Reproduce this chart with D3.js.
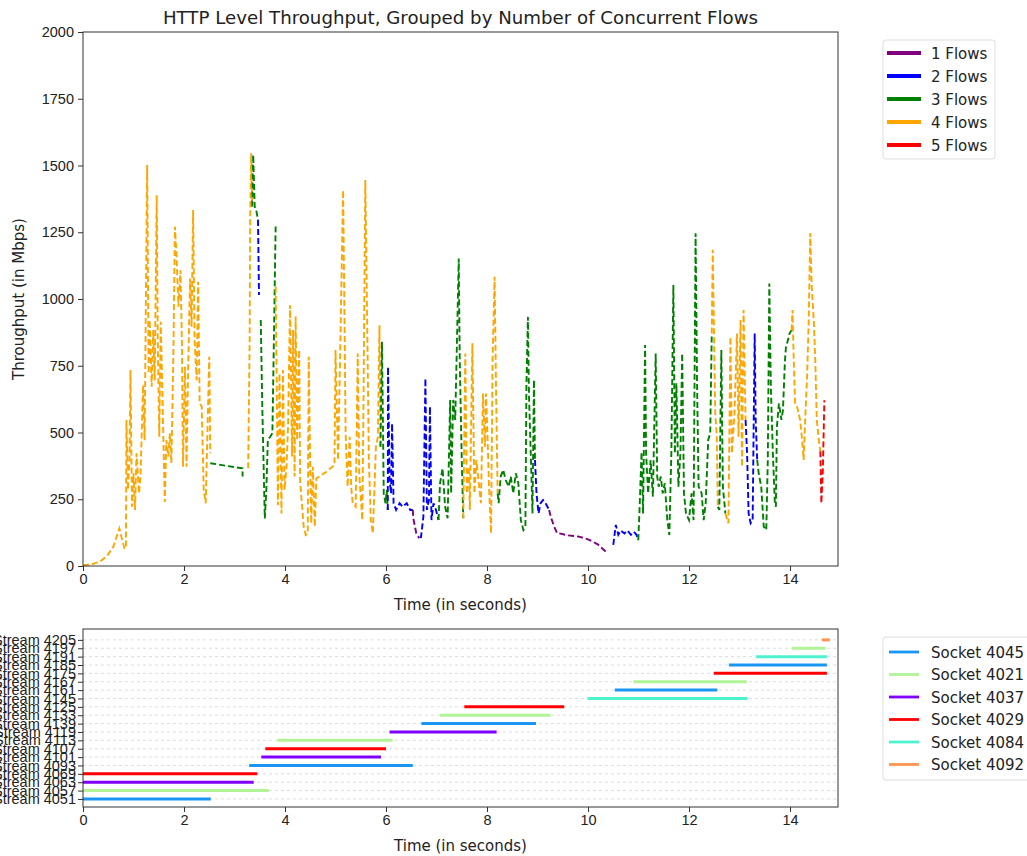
<!DOCTYPE html>
<html>
<head>
<meta charset="utf-8">
<script src="https://cdn.jsdelivr.net/npm/d3@7"></script>
<style>
  body { margin: 0; background: #fff; }
  svg { font-family: "DejaVu Sans", sans-serif; }
  .tick text { font-size: 14.5px; fill: #222; }
  .tick line { stroke: #333; }
</style>
</head>
<body>
<div id="chart"></div>
<script>
// flow colours / legend
const flowCounts = [1, 2, 3, 4, 5];
const flowColors = ['#800080', '#0000ff', '#008000', '#ffa500', '#ff0000'];

// throughput pieces, [time, Mbps], each tagged with its concurrent flow count
const seg01 = [[0,2],[0.2,8],[0.34,17],[0.47,36],[0.6,72],[0.72,141],[0.76,110],[0.82,66],[0.85,66],[0.86,547],[0.89,285],[0.92,397],[0.94,734],[0.97,222],[1.0,347],[1.03,210],[1.06,422],[1.11,272],[1.14,347],[1.19,678],[1.22,471],[1.27,1502],[1.3,721],[1.32,921],[1.36,671],[1.39,884],[1.42,696],[1.46,1389],[1.48,846],[1.51,484],[1.54,915],[1.58,572],[1.62,240],[1.65,472],[1.69,410],[1.72,497],[1.75,385],[1.79,796],[1.82,1271],[1.85,1171],[1.89,971],[1.93,1108],[1.96,821],[1.98,372],[2.02,746],[2.05,372],[2.08,721],[2.12,1077],[2.15,896],[2.18,1333],[2.21,846],[2.25,696],[2.28,1065],[2.31,609],[2.35,597],[2.39,285],[2.43,235],[2.46,472],[2.5,784],[2.52,422]];
const seg02 = [[2.52,385],[2.84,375],[3.16,366],[3.16,335]];
const seg03 = [[3.27,366],[3.3,846],[3.31,1296],[3.33,1546],[3.35,1346]];
const seg04 = [[3.35,1346],[3.37,1540],[3.4,1346],[3.43,1333],[3.465,1296]];
const seg05 = [[3.465,1296],[3.485,1015]];
const seg06 = [[3.52,921],[3.55,597],[3.6,178],[3.63,285],[3.66,472],[3.71,485],[3.75,497],[3.78,846],[3.8,1096],[3.815,1277]];
const seg07 = [[3.815,1046],[3.84,597],[3.86,228],[3.89,721],[3.93,197],[3.96,734],[3.99,285],[4.03,372],[4.06,522],[4.1,977],[4.14,410],[4.16,884],[4.19,335],[4.21,934],[4.24,472],[4.28,809],[4.3,310],[4.34,222],[4.37,147],[4.41,116],[4.45,122],[4.47,784],[4.5,347],[4.52,160],[4.55,372],[4.59,147],[4.62,328],[4.82,353],[4.98,378],[5.0,809],[5.05,397],[5.09,772],[5.15,1408],[5.18,896],[5.2,497],[5.24,297],[5.28,484],[5.31,297],[5.34,235],[5.4,222],[5.44,796],[5.47,347],[5.53,172],[5.55,522],[5.59,1446],[5.64,722],[5.66,397],[5.7,172],[5.74,122],[5.8,447],[5.84,484],[5.87,902],[5.89,447]];
const seg08 = [[5.89,447],[5.92,840],[5.94,522],[5.955,272],[5.99,235],[6.015,285],[6.035,210]];
const seg09 = [[6.035,210],[6.04,746],[6.07,322],[6.1,272],[6.12,534],[6.15,235],[6.2,210],[6.27,235],[6.33,222],[6.41,235],[6.48,210],[6.53,210]];
const seg10 = [[6.53,210],[6.54,179],[6.6,122],[6.66,104]];
const seg11 = [[6.69,104],[6.74,185],[6.78,703],[6.81,210],[6.85,247],[6.87,597],[6.9,172],[6.94,235],[6.99,210],[7.04,172]];
const seg12 = [[7.04,172],[7.07,310],[7.12,366],[7.17,222],[7.22,179],[7.27,622],[7.29,272],[7.33,622],[7.37,547],[7.4,796],[7.44,1152],[7.46,771],[7.5,397],[7.53,179]];
const seg13 = [[7.53,179],[7.57,796],[7.6,272],[7.64,372],[7.66,210],[7.71,834],[7.75,272],[7.79,397],[7.83,322],[7.88,235],[7.92,646],[7.96,447],[7.98,646],[8.01,484],[8.04,297],[8.08,122],[8.11,771],[8.15,1083],[8.18,646],[8.21,272]];
const seg14 = [[8.21,272],[8.23,235],[8.27,335],[8.32,360],[8.37,322],[8.43,297],[8.47,335],[8.52,272],[8.57,347],[8.62,310],[8.67,172],[8.72,135],[8.76,148],[8.78,672],[8.81,933],[8.83,646],[8.87,397],[8.9,197],[8.93,697],[8.95,397]];
const seg15 = [[8.95,397],[8.98,272],[9.02,197],[9.06,235],[9.11,247],[9.16,235],[9.23,210]];
const seg16 = [[9.23,210],[9.26,185],[9.33,148],[9.39,122],[9.43,122],[9.6,115],[9.82,110],[10.0,100],[10.09,92],[10.2,80],[10.35,54]];
const seg17 = [[10.5,79],[10.55,154],[10.6,117],[10.65,133],[10.72,122],[10.78,133],[10.85,117],[10.91,128],[10.96,117],[10.995,97]];
const seg18 = [[10.995,97],[11.02,210],[11.06,427],[11.09,197],[11.13,828],[11.15,422],[11.19,272],[11.24,397],[11.285,260],[11.34,796],[11.37,335],[11.4,297],[11.44,335],[11.48,272],[11.52,310],[11.57,172],[11.61,116],[11.65,422],[11.69,1052],[11.72,422],[11.75,684],[11.79,297],[11.83,422],[11.865,796],[11.9,272],[11.94,197],[12.0,172],[12.05,272],[12.09,172],[12.13,1246],[12.16,672],[12.19,297],[12.25,272],[12.29,172],[12.33,235],[12.38,472],[12.42,497],[12.45,871]];
const seg19 = [[12.45,871],[12.47,1184],[12.5,796],[12.52,571],[12.55,484],[12.57,222]];
const seg20 = [[12.57,222],[12.6,210],[12.64,809],[12.67,297],[12.72,197]];
const seg21 = [[12.72,197],[12.78,160],[12.82,858],[12.85,422],[12.9,571],[12.95,871],[12.98,484],[13.02,921],[13.05,372],[13.08,959],[13.12,547]];
const seg22 = [[13.12,547],[13.15,422],[13.18,197],[13.22,160],[13.26,172],[13.3,871],[13.32,547],[13.35,397]];
const seg23 = [[13.35,397],[13.38,347],[13.43,297],[13.48,147],[13.53,135],[13.56,397],[13.59,1058],[13.62,672],[13.66,422],[13.7,235],[13.72,222],[13.74,521],[13.78,609],[13.83,547],[13.86,584],[13.9,771],[13.92,821],[13.96,846],[13.99,871],[14.03,883]];
const seg24 = [[14.03,883],[14.05,959],[14.07,796],[14.1,609],[14.14,596],[14.17,572],[14.2,547],[14.24,472],[14.27,397],[14.3,547],[14.34,722],[14.37,921],[14.4,1246],[14.43,1046],[14.47,921],[14.5,771],[14.53,547],[14.57,472],[14.6,430]];
const seg25 = [[14.6,430],[14.62,235],[14.65,360],[14.68,621]];

const segments = [
  [4, seg01], [3, seg02], [4, seg03], [3, seg04], [2, seg05], [3, seg06], [4, seg07],
  [3, seg08], [2, seg09], [1, seg10], [2, seg11], [3, seg12], [4, seg13], [3, seg14],
  [2, seg15], [1, seg16], [2, seg17], [3, seg18], [4, seg19], [3, seg20], [4, seg21],
  [2, seg22], [3, seg23], [4, seg24], [5, seg25]
];

// streams (bottom chart), listed bottom to top
const streamNames = ['4051','4057','4063','4069','4093','4101','4107','4113','4119','4139','4133','4125','4145','4161','4167','4175','4185','4191','4197','4205'];
const streamStart = [0, 0, 0, 0, 3.29, 3.53, 3.61, 3.85, 6.07, 6.70, 7.07, 7.55, 9.99, 10.53, 10.9, 12.49, 12.79, 13.33, 14.04, 14.63];
const streamEnd = [2.53, 3.68, 3.38, 3.45, 6.53, 5.9, 6.0, 6.13, 8.19, 8.97, 9.26, 9.53, 13.16, 12.56, 13.14, 14.73, 14.73, 14.73, 14.70, 14.79];
const streamSocket = ['4045','4021','4037','4029','4045','4037','4029','4021','4037','4045','4021','4029','4084','4045','4021','4029','4045','4084','4021','4092'];

const sockets = ['4045', '4021', '4037', '4029', '4084', '4092'];
const socketColors = ['#1996f3', '#b2f396', '#8000ff', '#ff0000', '#4df3ce', '#ff964f'];

const xTicks = [0, 2, 4, 6, 8, 10, 12, 14];
const yTicks = [0, 250, 500, 750, 1000, 1250, 1500, 1750, 2000];

const svg = d3.select('#chart')
    .append('svg')
    .attr('width', 1027)
    .attr('height', 856);

// ---------- top chart ----------
const upper = { left: 83, right: 838, top: 32, bottom: 566 };

const x = d3.scaleLinear().domain([0, 14.95]).range([upper.left, upper.right]);
const y = d3.scaleLinear().domain([0, 2000]).range([upper.bottom, upper.top]);
const flowColor = d3.scaleOrdinal().domain(flowCounts).range(flowColors);

svg.append('text')
    .attr('x', (upper.left + upper.right) / 2)
    .attr('y', 24)
    .attr('text-anchor', 'middle')
    .style('font-size', '18.2px')
    .attr('fill', '#222')
    .text('HTTP Level Throughput, Grouped by Number of Concurrent Flows');

const line = d3.line()
    .x(d => x(d[0]))
    .y(d => y(d[1]));

svg.append('g')
    .selectAll('path')
    .data(segments)
    .enter().append('path')
    .attr('d', d => line(d[1]))
    .attr('fill', 'none')
    .attr('stroke', d => flowColor(d[0]))
    .attr('stroke-width', 1.9)
    .attr('stroke-dasharray', '6,3');

svg.append('rect')
    .attr('x', upper.left)
    .attr('y', upper.top)
    .attr('width', upper.right - upper.left)
    .attr('height', upper.bottom - upper.top)
    .attr('fill', 'none')
    .attr('stroke', '#333');

svg.append('g')
    .attr('transform', 'translate(0,' + upper.bottom + ')')
    .call(d3.axisBottom(x).tickValues(xTicks).tickSize(5).tickPadding(3))
    .call(g => g.select('.domain').remove());

svg.append('g')
    .attr('transform', 'translate(' + upper.left + ',0)')
    .call(d3.axisLeft(y).tickValues(yTicks).tickFormat(d3.format('d')).tickSize(5).tickPadding(4))
    .call(g => g.select('.domain').remove());

svg.append('text')
    .attr('x', (upper.left + upper.right) / 2)
    .attr('y', 610)
    .attr('text-anchor', 'middle')
    .style('font-size', '15px')
    .attr('fill', '#222')
    .text('Time (in seconds)');

svg.append('text')
    .attr('transform', 'translate(24,' + ((upper.top + upper.bottom) / 2) + ') rotate(-90)')
    .attr('text-anchor', 'middle')
    .style('font-size', '15px')
    .attr('fill', '#222')
    .text('Throughput (in Mbps)');

// top legend
const leg1 = svg.append('g').attr('transform', 'translate(883,40)');
leg1.append('rect')
    .attr('width', 112).attr('height', 119).attr('rx', 3)
    .attr('fill', '#fff').attr('stroke', '#ddd');
flowCounts.forEach((f, i) => {
    leg1.append('line')
        .attr('x1', 4).attr('x2', 38)
        .attr('y1', 13 + i * 23).attr('y2', 13 + i * 23)
        .attr('stroke', flowColor(f)).attr('stroke-width', 4);
    leg1.append('text')
        .attr('x', 48).attr('y', 18.5 + i * 23)
        .style('font-size', '15px').attr('fill', '#222')
        .text(f + ' Flows');
});

// ---------- bottom chart ----------
const lower = { left: 83, right: 838, top: 629, bottom: 807 };

const xb = d3.scaleLinear().domain([0, 14.95]).range([lower.left, lower.right]);
const yb = d3.scaleLinear().domain([-0.96, 20.3]).range([lower.bottom, lower.top]);
const sockColor = d3.scaleOrdinal().domain(sockets).range(socketColors);
const rows = d3.range(streamNames.length);

svg.append('g')
    .selectAll('line')
    .data(rows)
    .enter().append('line')
    .attr('x1', lower.left).attr('x2', lower.right)
    .attr('y1', i => yb(i)).attr('y2', i => yb(i))
    .attr('stroke', '#d4d4d4')
    .attr('stroke-width', 0.8)
    .attr('stroke-dasharray', '3,3');

svg.append('g')
    .selectAll('line')
    .data(rows)
    .enter().append('line')
    .attr('x1', i => xb(streamStart[i]))
    .attr('x2', i => xb(streamEnd[i]))
    .attr('y1', i => yb(i)).attr('y2', i => yb(i))
    .attr('stroke', i => sockColor(streamSocket[i]))
    .attr('stroke-width', 3);

svg.append('rect')
    .attr('x', lower.left)
    .attr('y', lower.top)
    .attr('width', lower.right - lower.left)
    .attr('height', lower.bottom - lower.top)
    .attr('fill', 'none')
    .attr('stroke', '#333');

svg.append('g')
    .attr('transform', 'translate(0,' + lower.bottom + ')')
    .call(d3.axisBottom(xb).tickValues(xTicks).tickSize(5).tickPadding(3))
    .call(g => g.select('.domain').remove());

// stream labels are as large as in the reference, so they overlap and run off the left edge
svg.append('g')
    .attr('transform', 'translate(' + lower.left + ',0)')
    .call(d3.axisLeft(yb).tickValues(rows).tickSize(5).tickPadding(2)
        .tickFormat(i => 'Stream ' + streamNames[i]))
    .call(g => g.select('.domain').remove())
    .call(g => g.selectAll('.tick text').style('font-size', '14.5px'));

svg.append('text')
    .attr('x', (lower.left + lower.right) / 2)
    .attr('y', 851)
    .attr('text-anchor', 'middle')
    .style('font-size', '15px')
    .attr('fill', '#222')
    .text('Time (in seconds)');

// bottom legend
const leg2 = svg.append('g').attr('transform', 'translate(883,637)');
leg2.append('rect')
    .attr('width', 150).attr('height', 143).attr('rx', 3)
    .attr('fill', '#fff').attr('stroke', '#ddd');
sockets.forEach((s, i) => {
    leg2.append('line')
        .attr('x1', 6).attr('x2', 36)
        .attr('y1', 15 + i * 22.5).attr('y2', 15 + i * 22.5)
        .attr('stroke', sockColor(s)).attr('stroke-width', 2.8);
    leg2.append('text')
        .attr('x', 48).attr('y', 20.5 + i * 22.5)
        .style('font-size', '15px').attr('fill', '#222')
        .text('Socket ' + s);
});
</script>
</body>
</html>
